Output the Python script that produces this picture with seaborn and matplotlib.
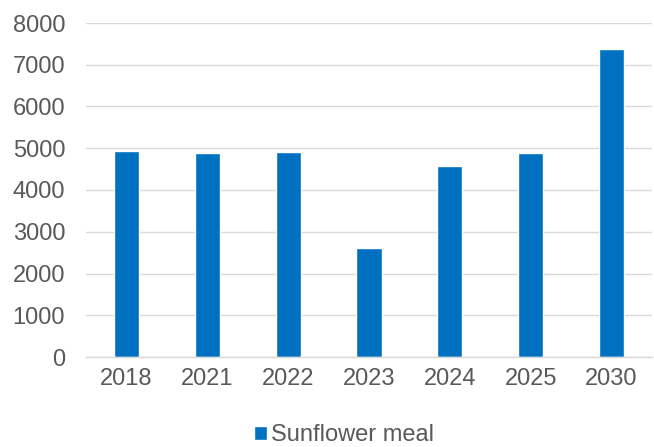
import matplotlib
matplotlib.use("Agg")
import matplotlib.pyplot as plt
import seaborn as sns
import pandas as pd

years = ["2018", "2021", "2022", "2023", "2024", "2025", "2030"]
values = [4940, 4880, 4910, 2600, 4580, 4890, 7370]
series = "Sunflower meal"

sns.set_theme(style="white")
plt.rcParams["font.family"] = ["Liberation Sans", "DejaVu Sans"]

df = pd.DataFrame({"year": years, "value": values, "series": [series] * len(years)})

fig = plt.figure(figsize=(6.54, 4.47), dpi=100)
ax = fig.add_axes([86 / 654, 1 - 357 / 447, (652 - 86) / 654, (357 - 23) / 447])

sns.barplot(data=df, x="year", y="value", hue="series", palette=["#0070C0"],
            width=0.31, ax=ax, saturation=1)

ax.set_ylim(0, 8000)
ax.set_yticks(range(0, 8001, 1000))
ax.yaxis.grid(True, color="#d9d9d9", linewidth=1)
ax.set_axisbelow(True)
for s in ["top", "right", "left"]:
    ax.spines[s].set_visible(False)
ax.spines["bottom"].set_color("#d9d9d9")
ax.spines["bottom"].set_linewidth(1)
ax.set_xlabel("")
ax.set_ylabel("")
ax.tick_params(axis="y", length=0, pad=15, labelsize=17, labelcolor="#595959")
ax.tick_params(axis="x", length=0, pad=8, labelsize=17, labelcolor="#595959")

handles, labels = ax.get_legend_handles_labels()
if ax.get_legend() is not None:
    ax.get_legend().remove()
fig.legend(handles, labels, loc="center", bbox_to_anchor=(344 / 654, 1 - 435 / 447),
           frameon=False, fontsize=17, labelcolor="#595959", handlelength=0.55,
           handleheight=0.55, handletextpad=0.15, borderpad=0)

fig.savefig("out.png", dpi=100)
